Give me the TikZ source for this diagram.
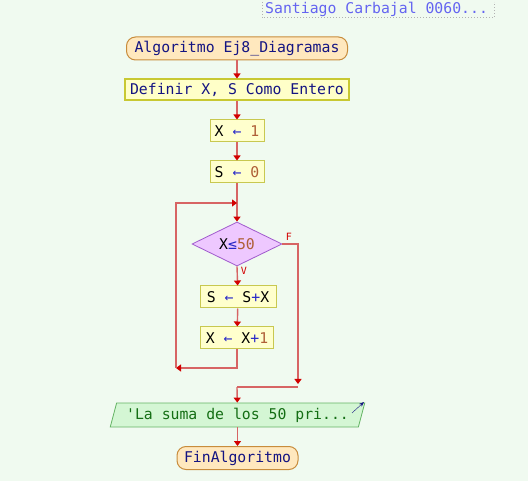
\documentclass[tikz,border=0pt]{standalone}
\usepackage{fontspec}
\setmonofont{DejaVu Sans Mono}
\usetikzlibrary{shapes.geometric,arrows.meta}
\definecolor{bgmint}{RGB}{240,250,240}
\definecolor{flowred}{RGB}{210,0,0}
\definecolor{flowline}{RGB}{215,100,100}
\definecolor{txtnavy}{RGB}{20,20,130}
\definecolor{numbrown}{RGB}{175,95,55}
\definecolor{opblue}{RGB}{40,40,200}
\tikzset{
    base/.style = {font=\ttfamily\fontsize{14.8}{16}\selectfont, inner sep=2pt},
    termbox/.style = {base, rounded corners=9pt, draw={rgb,255:red,200;green,140;blue,60}, line width=1pt, fill={rgb,255:red,255;green,232;blue,190}, text=txtnavy, minimum height=23pt},
    defbox/.style = {base, draw={rgb,255:red,200;green,200;blue,50}, line width=2pt, fill={rgb,255:red,255;green,255;blue,200}, text=txtnavy, minimum height=21pt},
    asgbox/.style = {base, draw={rgb,255:red,200;green,200;blue,80}, line width=1pt, fill={rgb,255:red,255;green,255;blue,205}, minimum height=22pt},
    decbox/.style = {base, diamond, aspect=2, draw={rgb,255:red,160;green,90;blue,205}, line width=0.8pt, fill={rgb,255:red,238;green,200;blue,255}, minimum width=90pt, minimum height=44pt, inner sep=0pt},
    outbox/.style = {base, trapezium, trapezium left angle=72, trapezium right angle=108, trapezium stretches=true, draw={rgb,255:red,100;green,180;blue,100}, line width=0.8pt, fill={rgb,255:red,212;green,246;blue,212}, text={rgb,255:red,20;green,110;blue,20}, minimum width=255pt, minimum height=24pt},
    flow/.style = {draw=flowline, line width=1.4pt, -{Triangle[length=5pt,width=7pt,color=flowred]}},
    plain/.style = {draw=flowline, line width=1.4pt},
    lbl/.style = {font=\ttfamily\fontsize{10}{12}\selectfont, text=flowred, inner sep=0pt}
}
\newcommand{\op}[1]{\textcolor{opblue}{#1}}
\newcommand{\nm}[1]{\textcolor{numbrown}{#1}}
\begin{document}
\begin{tikzpicture}[x=1pt,y=-1pt]
    \fill[bgmint] (0,0) rectangle (528,481);
    \useasboundingbox (0,0) rectangle (528,481);
    % title tag
    \draw[dotted, line width=1pt, gray!60] (262,2) -- (262,18) -- (494,18) -- (494,2);
    \node[base, text={rgb,255:red,100;green,100;blue,240}, anchor=west] (title) at (263,9) {Santiago Carbajal 0060...};
    % blocks
    \node[termbox, minimum width=221pt] (start) at (237,48.5) {Algoritmo Ej8\_Diagramas};
    \node[defbox, minimum width=224pt] (def) at (237,90) {Definir X, S Como Entero};
    \node[asgbox, minimum width=54pt] (xone) at (237,131) {X \op{←} \nm{1}};
    \node[asgbox, minimum width=54pt] (szero) at (237,172) {S \op{←} \nm{0}};
    \node[decbox] (cond) at (237,244) {X\op{≤}\nm{50}};
    \node[asgbox, minimum width=76pt] (sum) at (238,297) {S \op{←} S\op{+}X};
    \node[asgbox, minimum width=73pt] (inc) at (237,338) {X \op{←} X\op{+}\nm{1}};
    \node[outbox] (out) at (237.5,415) {'La suma de los 50 pri...};
    \node[termbox, minimum width=121pt] (fin) at (237.5,458) {FinAlgoritmo};
    \draw[-{Stealth[length=5pt]}, txtnavy] (352,413) -- (364,402);
    % branch labels
    \node[lbl] (flab) at (289,237) {F};
    \node[lbl] (vlab) at (244,271) {V};
    % loop points
    \coordinate (join) at (237,203);
    \coordinate (incdown) at (237,368);
    \coordinate (back) at (176,368);
    \coordinate (backup) at (176,203);
    \coordinate (fright) at (298,244);
    \coordinate (fdown) at (298,384);
    \coordinate (merge) at (237,387);
    \coordinate (mergeright) at (298,387);
    % connectors
    \draw[flow] (start) -- (def);
    \draw[flow] (def) -- (xone);
    \draw[flow] (xone) -- (szero);
    \draw[flow] (szero) -- (cond.north);
    \draw[flow] (cond.south) -- (sum);
    \draw[flow] (sum) -- (inc);
    \draw[flow] (inc) -- (incdown) -- (back);
    \draw[flow] (back) -- (backup) -- (join);
    \draw[flow] (cond.east) -- (fright) -- (fdown);
    \draw[plain] (merge) -- (mergeright);
    \draw[flow] (merge) -- (out);
    \draw[flow] (out) -- (fin);
\end{tikzpicture}
\end{document}
